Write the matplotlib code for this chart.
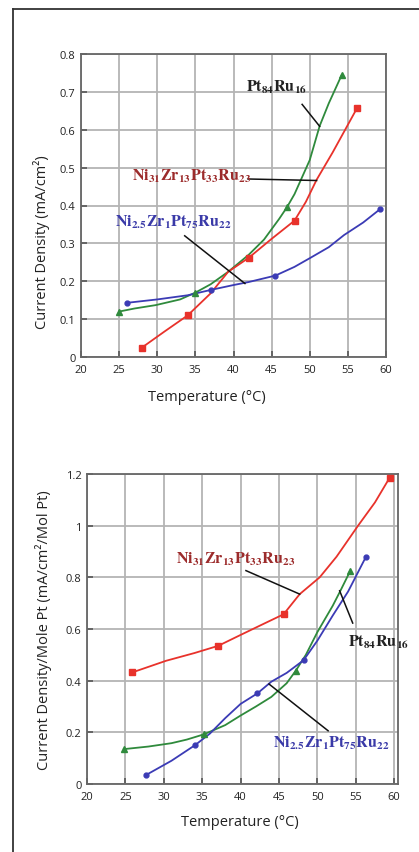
import matplotlib
matplotlib.use("Agg")
import matplotlib.pyplot as plt
from matplotlib.lines import Line2D
from matplotlib.ticker import MultipleLocator, FuncFormatter

plt.rcParams["font.family"] = ["Open Sans", "DejaVu Sans"]
plt.rcParams["mathtext.fontset"] = "stix"

GREEN = "#2f8a3c"
RED = "#e8322b"
BLUE = "#3b3bb5"

# top panel: current density (mA/cm2), curve points
top_green_x = [25, 27, 29.8, 33, 35, 37, 39.3, 42, 44, 46, 47, 48, 50, 51.3, 52.5, 54.2]
top_green_y = [0.12, 0.128, 0.137, 0.152, 0.17, 0.192, 0.225, 0.27, 0.31, 0.365, 0.395, 0.43, 0.52, 0.61, 0.67, 0.745]
top_green_mx = [25, 35, 47, 54.2]
top_green_my = [0.12, 0.17, 0.395, 0.745]

top_red_x = [28, 31, 34, 37, 39.3, 42, 45, 48, 49.5, 50.9, 53, 56.2]
top_red_y = [0.025, 0.068, 0.11, 0.168, 0.225, 0.262, 0.312, 0.36, 0.41, 0.468, 0.54, 0.657]
top_red_mx = [28, 34, 42, 48, 56.2]
top_red_my = [0.025, 0.11, 0.262, 0.36, 0.657]

top_blue_x = [26, 30, 34, 37, 40, 42, 45.5, 48, 50.1, 52.5, 54.5, 57, 59.2]
top_blue_y = [0.143, 0.152, 0.163, 0.177, 0.19, 0.198, 0.215, 0.238, 0.262, 0.29, 0.322, 0.355, 0.39]
top_blue_mx = [26, 37, 45.5, 59.2]
top_blue_my = [0.143, 0.177, 0.215, 0.39]

# bottom panel: current density per mole Pt
bot_red_x = [25.9, 30.3, 34, 37.1, 40, 43, 45.6, 47.7, 50.3, 52.5, 55.3, 57.5, 59.4]
bot_red_y = [0.432, 0.477, 0.507, 0.535, 0.577, 0.62, 0.657, 0.735, 0.80, 0.88, 1.0, 1.09, 1.185]
bot_red_mx = [25.9, 37.1, 45.6, 59.4]
bot_red_my = [0.432, 0.535, 0.657, 1.185]

bot_green_x = [24.8, 28, 31, 33, 35.2, 38, 40, 42, 44, 46, 47.2, 48.5, 50, 52, 53, 54.3]
bot_green_y = [0.135, 0.145, 0.158, 0.172, 0.192, 0.228, 0.265, 0.3, 0.337, 0.39, 0.439, 0.50, 0.588, 0.69, 0.748, 0.826]
bot_green_mx = [24.8, 35.2, 47.2, 54.3]
bot_green_my = [0.135, 0.192, 0.439, 0.826]

bot_blue_x = [27.7, 31, 34.1, 36, 38, 40, 42.2, 44, 46, 48.2, 50, 52, 54, 56.3]
bot_blue_y = [0.035, 0.09, 0.151, 0.195, 0.255, 0.31, 0.351, 0.396, 0.43, 0.479, 0.555, 0.652, 0.745, 0.878]
bot_blue_mx = [27.7, 34.1, 42.2, 48.2, 56.3]
bot_blue_my = [0.035, 0.151, 0.351, 0.479, 0.878]

LBL_PT = r"$\mathbf{Pt_{84}Ru_{16}}$"
LBL_NI31 = r"$\mathbf{Ni_{31}Zr_{13}Pt_{33}Ru_{23}}$"
LBL_NI25 = r"$\mathbf{Ni_{2.5}Zr_{1}Pt_{75}Ru_{22}}$"


def style_axes(ax, ymax, ystep):
    ax.set_xlim(20, 60)
    ax.set_ylim(0, ymax)
    ax.xaxis.set_major_locator(MultipleLocator(5))
    ax.yaxis.set_major_locator(MultipleLocator(ystep))
    ax.yaxis.set_major_formatter(FuncFormatter(lambda v, p: "%g" % round(v, 2)))
    ax.grid(True, color="#b4b4b4", lw=1.3)
    ax.set_axisbelow(True)
    for s in ax.spines.values():
        s.set_color("#666666")
        s.set_linewidth(1.3)
    ax.tick_params(direction="in", length=4, width=1.2, color="#555555",
                   labelsize=8, labelcolor="#222222")
    ax.tick_params(axis="x", pad=5)
    ax.tick_params(axis="y", pad=4)


def series(ax, x, y, mx, my, color, marker, ms):
    ax.plot(x, y, color=color, lw=1.3, zorder=3)
    ax.plot(mx, my, ls="none", marker=marker, color=color, ms=ms, zorder=4)


def label(ax, text, pos, start, end, color):
    ax.text(pos[0], pos[1], text, color=color, fontsize=11.5, ha="center",
            va="center", clip_on=False, zorder=6)
    ax.plot([start[0], end[0]], [start[1], end[1]], color="#111111", lw=1.1,
            zorder=5, clip_on=False)


fig = plt.figure(figsize=(4.19, 8.53), dpi=100)

# frame lines on the left and top
fig.add_artist(Line2D([12.5 / 419, 12.5 / 419], [0, 1 - 10 / 853], color="#333333", lw=1.3))
fig.add_artist(Line2D([12.5 / 419, 1], [1 - 10 / 853, 1 - 10 / 853], color="#333333", lw=1.3))

ax1 = fig.add_axes([81 / 419, 1 - 358 / 853, 305 / 419, 303 / 853])
style_axes(ax1, 0.8, 0.1)
series(ax1, top_green_x, top_green_y, top_green_mx, top_green_my, GREEN, "^", 5)
series(ax1, top_red_x, top_red_y, top_red_mx, top_red_my, RED, "s", 4.5)
series(ax1, top_blue_x, top_blue_y, top_blue_mx, top_blue_my, BLUE, "o", 3.5)
label(ax1, LBL_PT, (45.7, 0.715), (49.0, 0.667), (51.3, 0.609), "#222222")
label(ax1, LBL_NI31, (34.5, 0.481), (41.9, 0.47), (50.9, 0.466), "#9c2b2b")
label(ax1, LBL_NI25, (32.1, 0.358), (33.6, 0.32), (41.5, 0.194), "#3a3aa8")
ax1.set_xlabel("Temperature (°C)", fontsize=10.5, color="#222222")
ax1.set_ylabel("Current Density (mA/cm²)", fontsize=10.5, color="#222222")
ax1.xaxis.set_label_coords(0.412, -0.106)
ax1.yaxis.set_label_coords(-0.10, 0.384)

ax2 = fig.add_axes([87 / 419, 1 - 785 / 853, 311 / 419, 310 / 853])
style_axes(ax2, 1.2, 0.2)
ax2.set_xlim(20, 60.5)
series(ax2, bot_red_x, bot_red_y, bot_red_mx, bot_red_my, RED, "s", 4.5)
series(ax2, bot_green_x, bot_green_y, bot_green_mx, bot_green_my, GREEN, "^", 5)
series(ax2, bot_blue_x, bot_blue_y, bot_blue_mx, bot_blue_my, BLUE, "o", 3.5)
label(ax2, LBL_NI31, (39.3, 0.874), (40.7, 0.826), (47.7, 0.735), "#9c2b2b")
label(ax2, LBL_PT, (58.0, 0.551), (54.6, 0.623), (52.9, 0.748), "#222222")
label(ax2, LBL_NI25, (51.8, 0.161), (51.4, 0.206), (43.7, 0.387), "#3a3aa8")
ax2.set_xlabel("Temperature (°C)", fontsize=10.5, color="#222222")
ax2.set_ylabel("Current Density/Mole Pt (mA/cm²/Mol Pt)", fontsize=10.5, color="#222222")
ax2.xaxis.set_label_coords(0.492, -0.097)
ax2.yaxis.set_label_coords(-0.113, 0.498)

fig.savefig("out.png", dpi=100)
